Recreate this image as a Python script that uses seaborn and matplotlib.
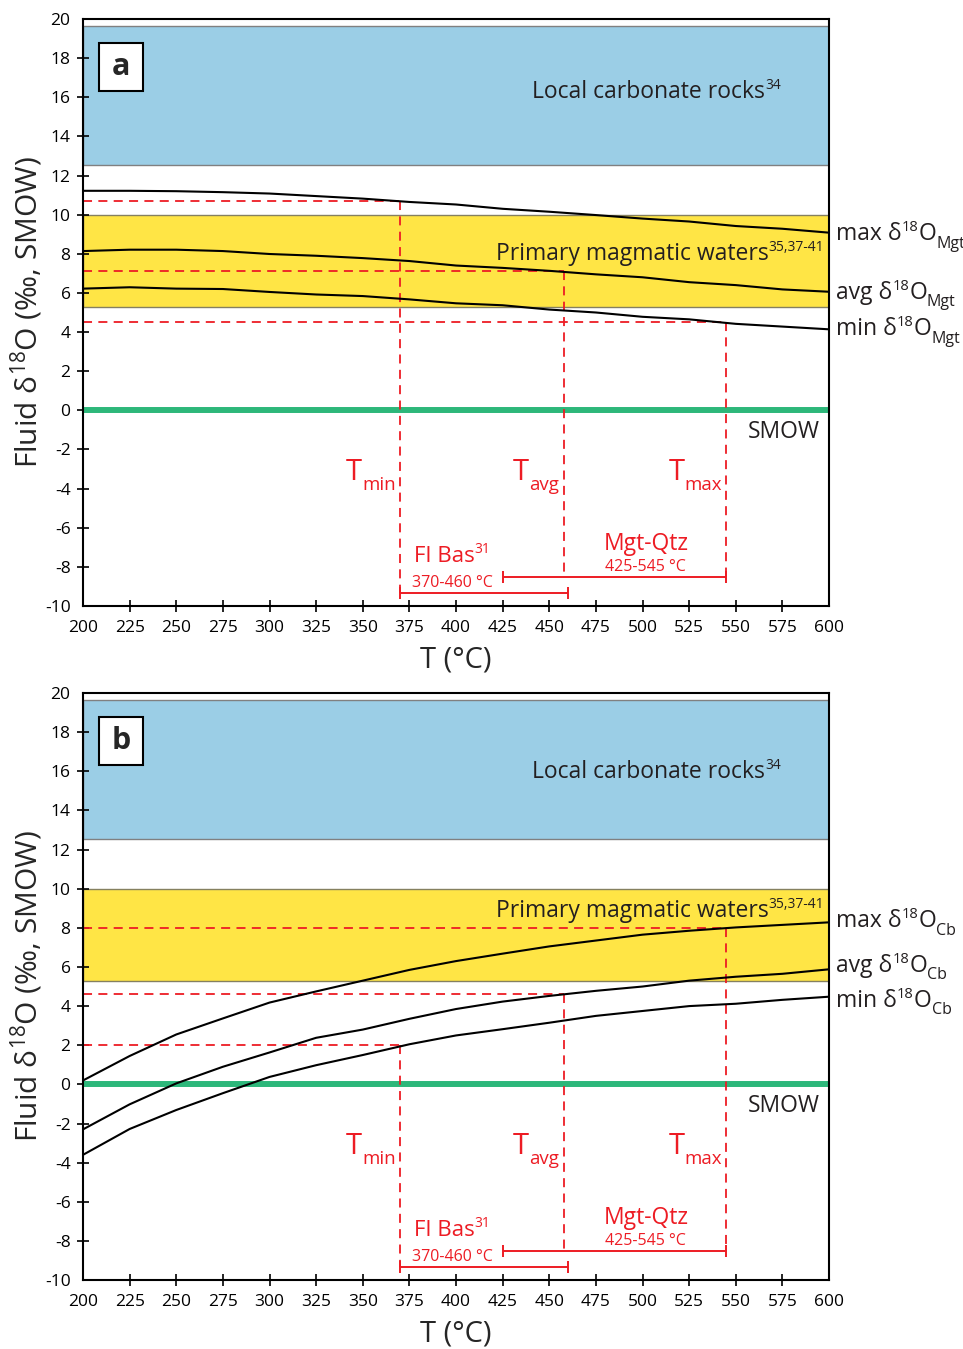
import matplotlib
matplotlib.use("Agg")
import matplotlib.pyplot as plt
import seaborn as sns
import numpy as np
from matplotlib.patches import Rectangle
from matplotlib.transforms import ScaledTranslation

# ---------------- data ----------------
temps = [200, 225, 250, 275, 300, 325, 350, 375, 400, 425, 450, 475, 500, 525, 550, 575, 600]

a_max = [11.22, 11.22, 11.2, 11.15, 11.08, 10.95, 10.82, 10.65, 10.52, 10.3, 10.15, 9.98, 9.8, 9.65, 9.42, 9.28, 9.08]
a_avg = [8.14, 8.21, 8.21, 8.14, 7.99, 7.9, 7.78, 7.63, 7.4, 7.28, 7.13, 6.95, 6.8, 6.55, 6.4, 6.18, 6.06]
a_min = [6.22, 6.29, 6.22, 6.2, 6.05, 5.92, 5.84, 5.67, 5.47, 5.37, 5.15, 5.0, 4.78, 4.65, 4.42, 4.28, 4.14]

b_max = [0.2, 1.45, 2.55, 3.37, 4.18, 4.75, 5.3, 5.85, 6.3, 6.68, 7.05, 7.35, 7.65, 7.85, 8.02, 8.15, 8.28]
b_avg = [-2.3, -1.02, 0.05, 0.9, 1.63, 2.38, 2.8, 3.35, 3.85, 4.23, 4.52, 4.78, 5.0, 5.3, 5.5, 5.65, 5.88]
b_min = [-3.6, -2.28, -1.31, -0.45, 0.38, 0.98, 1.5, 2.05, 2.5, 2.82, 3.15, 3.5, 3.75, 4.0, 4.12, 4.32, 4.48]

carbonate_band = [12.55, 19.62]
magmatic_band = [5.28, 10.0]

t_marks = [370, 458, 545]          # Tmin, Tavg, Tmax
a_levels = [10.7, 7.1, 4.5]        # fluid values at Tmin/Tavg/Tmax, panel a
b_levels = [2.0, 4.6, 8.0]         # panel b
t_names = ["min", "avg", "max"]

fi_range = [370, 460]
mq_range = [425, 545]

x_ticks = list(range(200, 601, 25))
y_ticks = list(range(-10, 21, 2))

# ---------------- style ----------------
sns.set_style("ticks")
FONT = ["Open Sans", "DejaVu Sans"]
plt.rcParams["font.family"] = FONT
plt.rcParams["mathtext.fontset"] = "custom"
plt.rcParams["mathtext.rm"] = "Open Sans"
plt.rcParams["mathtext.it"] = "Open Sans:italic"
plt.rcParams["mathtext.bf"] = "Open Sans:bold"
plt.rcParams["axes.unicode_minus"] = False

RED = "#ED1C24"
GREEN = "#2DB77A"
BLUE = "#9BCEE6"
YELLOW = "#FFE545"
TXT = "#231F20"

DPI = 100
fig = plt.figure(figsize=(9.63, 13.49), dpi=DPI)
ax_a = fig.add_axes([0.0862, 0.5508, 0.7747, 0.4351])
ax_b = fig.add_axes([0.0862, 0.0511, 0.7747, 0.4352])
renderer = fig.canvas.get_renderer()


def rich(ax, x, y, parts, color, ha="left", **kw):
    """parts: list of (string, fontsize, vertical offset in points)."""
    widths = []
    for s, fs, dy in parts:
        t = ax.text(0, 0, s, fontsize=fs)
        widths.append(t.get_window_extent(renderer).width)
        t.remove()
    total = sum(widths)
    acc = {"left": 0.0, "right": -total, "center": -total / 2}[ha]
    for (s, fs, dy), w in zip(parts, widths):
        tr = ax.transData + ScaledTranslation(acc / DPI, dy / 72.0, fig.dpi_scale_trans)
        ax.text(x, y, s, fontsize=fs, transform=tr, ha="left", va="baseline",
                color=color, clip_on=False, **kw)
        acc += w


def draw_panel(ax, curves, levels, sub, right_y, label, magm_y, carb_y):
    ax.set_xlim(200, 600)
    ax.set_ylim(-10, 20)
    ax.axhspan(carbonate_band[0], carbonate_band[1], facecolor=BLUE,
               edgecolor="#808080", lw=1.0, zorder=0)
    ax.axhspan(magmatic_band[0], magmatic_band[1], facecolor=YELLOW,
               edgecolor="#858060", lw=1.0, zorder=0)
    ax.axhline(0, color=GREEN, lw=4.3, zorder=1)

    for c in curves:
        sns.lineplot(x=temps, y=c, ax=ax, color="black", lw=1.5, zorder=3,
                     legend=False)

    # red guide lines
    bar_y = {0: -9.35, 1: -8.52, 2: -8.52}
    for i, (t, lv) in enumerate(zip(t_marks, levels)):
        ax.plot([200, t], [lv, lv], color=RED, lw=1.3, ls=(0, (5, 3.5)), zorder=2)
        ax.plot([t, t], [lv, bar_y[i]], color=RED, lw=1.3, ls=(0, (5, 3.5)), zorder=2)

    # T labels
    t_label_x = [341, 430.5, 514]
    for x, nm in zip(t_label_x, t_names):
        rich(ax, x, -3.54, [("T", 21, 0), (nm, 13.5, -7.5)], RED)

    # range bars
    ax.errorbar(x=np.mean(fi_range), y=-9.35, xerr=(fi_range[1] - fi_range[0]) / 2,
                fmt="none", ecolor=RED, elinewidth=1.4, capsize=4.5, capthick=1.4)
    ax.errorbar(x=np.mean(mq_range), y=-8.52, xerr=(mq_range[1] - mq_range[0]) / 2,
                fmt="none", ecolor=RED, elinewidth=1.4, capsize=4.5, capthick=1.4)
    rich(ax, 377.5, -7.75, [("FI Bas", 16, 0), ("31", 10, 6.5)], RED)
    ax.text(398.3, -9.03, "370-460 °C", color=RED, fontsize=11.5,
            ha="center", va="baseline")
    ax.text(501.9, -7.12, "Mgt-Qtz", color=RED, fontsize=16.5,
            ha="center", va="baseline")
    ax.text(501.4, -8.21, "425-545 °C", color=RED, fontsize=11.5,
            ha="center", va="baseline")

    # band labels
    rich(ax, 574.3, carb_y, [("Local carbonate rocks", 16.5, 0), ("34", 10, 6.5)],
         TXT, ha="right")
    rich(ax, 597.5, magm_y, [("Primary magmatic waters", 16.5, 0),
                             ("35,37-41", 10, 6.5)], TXT, ha="right")
    ax.text(595, -1.4, "SMOW", color=TXT, fontsize=16.5, ha="right", va="baseline")

    # right side curve labels
    for nm, yy in zip(["max", "avg", "min"], right_y):
        rich(ax, 603.8, yy, [(nm + " δ", 16.5, 0), ("18", 10.5, 6.5), ("O", 16.5, 0),
                             (sub, 11.5, -5.5)], TXT)

    # panel letter
    ax.add_patch(Rectangle((0.0214, 0.8773), 0.059, 0.0818, transform=ax.transAxes,
                           facecolor="white", edgecolor="black", lw=1.5, zorder=5))
    ax.text(0.051, 0.918, label, transform=ax.transAxes, fontsize=22,
            fontweight="bold", ha="center", va="center", zorder=6)

    # axes styling
    ax.set_xticks(x_ticks)
    ax.set_yticks(y_ticks)
    ax.tick_params(direction="inout", length=8, width=1.2, labelsize=12.5,
                   colors="black", pad=5)
    ax.tick_params(axis="x", pad=6)
    for tk in [ax.xaxis.get_major_ticks()[0], ax.xaxis.get_major_ticks()[-1],
               ax.yaxis.get_major_ticks()[0], ax.yaxis.get_major_ticks()[-1]]:
        tk.tick1line.set_visible(False)
    for sp in ax.spines.values():
        sp.set_visible(True)
        sp.set_linewidth(1.5)
        sp.set_color("black")
    ax.set_xlabel("T (°C)", fontsize=21, labelpad=7)
    ax.set_ylabel(r"Fluid δ$^{\mathrm{18}}$O (‰, SMOW)", fontsize=21.5, labelpad=0)


draw_panel(ax_a, [a_max, a_avg, a_min], a_levels, "Mgt", [8.69, 5.71, 3.83], "a",
           7.66, 15.94)
draw_panel(ax_b, [b_max, b_avg, b_min], b_levels, "Cb", [8.02, 5.75, 3.97], "b",
           8.56, 15.66)

fig.savefig("out.png", dpi=DPI)
